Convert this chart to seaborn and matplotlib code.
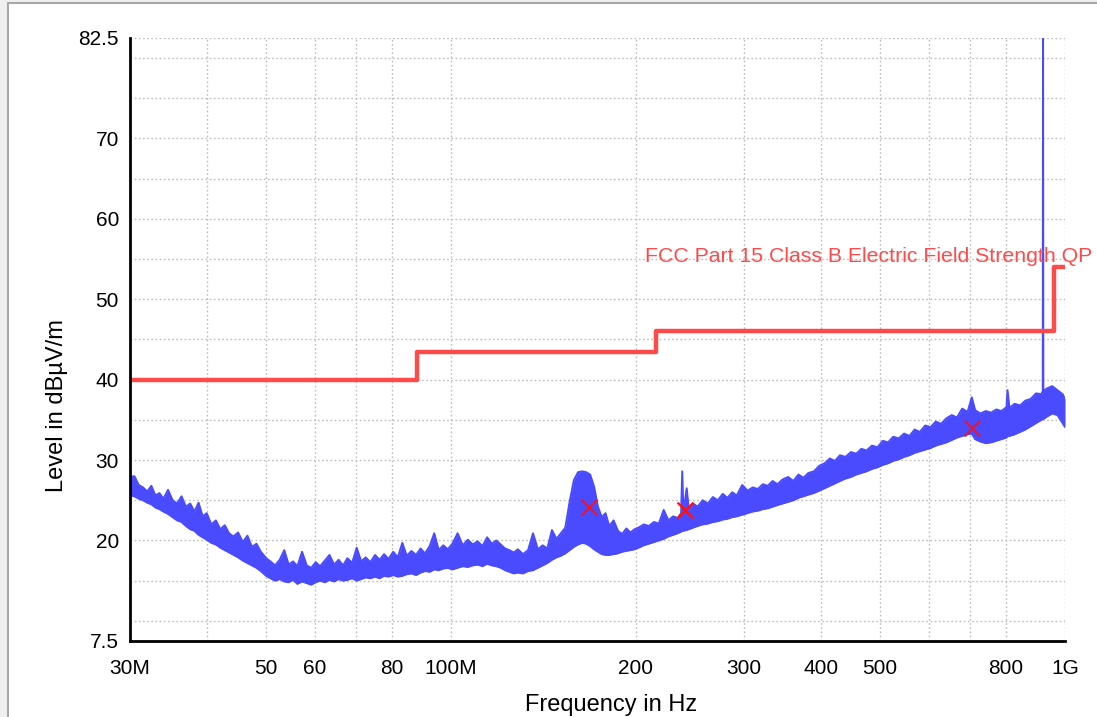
import matplotlib
matplotlib.use("Agg")
import matplotlib.pyplot as plt
import matplotlib.ticker as mticker
from matplotlib.patches import Rectangle
import seaborn as sns
import pandas as pd

# ---------------- data ----------------
# measured spectrum envelope: frequency in MHz, lower / upper level in dBµV/m
freq_mhz = [
    30, 30.5, 31, 31.5, 32, 32.5, 33, 33.5, 34, 34.6, 35.2, 35.8, 36.4, 37, 37.6, 38.2, 38.8, 39.4,
    40, 40.7, 41.4, 42.1, 42.8, 43.5, 44.2, 45, 45.8, 46.6, 47.4, 48.2, 49, 50,
    50.8, 51.7, 52.6, 53.5, 54.4, 55.3, 56.2, 57.2, 58.2, 59.2, 60.2, 61.2, 62.3, 63.4, 64.5, 65.6,
    66.7, 67.8, 69, 70.2, 71.4, 72.6, 73.9, 75.2, 76.5, 77.8, 79.1, 80.5, 81.9, 83.3, 84.7, 86.2,
    87.7, 89.2, 90.7, 92.3, 93.9, 95.5, 97.1, 98.8, 100.5,
    102.5, 104.5, 106.5, 108.5, 110.5, 112.5, 114.5, 116.5, 118.5, 120.5, 122.5, 124.5, 126.5, 128.5,
    131, 133.5, 136, 138.5, 141, 143.5, 146, 148.5, 151, 153.5, 156, 158.5, 161, 163.5, 166, 168.5,
    171, 173.5, 176, 178.5, 181, 184, 187, 190, 193, 196, 199,
    202, 206, 210, 214, 218, 222, 226, 230, 234, 237, 238, 239, 242, 244, 248, 252, 257, 262, 267,
    272, 277, 282, 287, 292, 298, 304, 310, 316, 322, 328, 334, 340, 347, 354, 361, 368, 375, 382,
    390, 398,
    406, 414, 422, 430, 439, 448, 457, 466, 475, 485, 495, 505, 515, 525, 536, 547, 558, 569, 580,
    592, 604, 616, 628, 641, 654, 667, 680, 694, 705, 714, 728, 743, 758, 773, 788, 803, 806, 812,
    828, 845, 862, 879, 897, 915, 920, 921, 922, 934, 953, 972, 991, 1000]
level_high = [
    27.9, 28.0, 26.9, 26.6, 26.1, 26.8, 25.6, 25.9, 25.2, 26.3, 25.0, 24.6, 25.5, 24.2, 24.6, 23.6,
    24.7, 23.0, 23.4, 22.0, 22.5, 21.4, 21.9, 20.9, 20.5, 21.0, 19.8, 20.6, 19.2, 19.6, 18.6, 17.8,
    17.4, 16.9, 17.6, 18.8, 17.0, 17.4, 16.8, 18.6, 16.9, 16.6, 17.3, 16.8, 17.5, 18.2, 17.0, 17.6,
    16.9, 17.8, 17.2, 19.1, 17.4, 17.9, 17.3, 18.2, 17.6, 18.3, 17.7, 18.6, 17.9, 19.7, 18.1, 18.7,
    18.2, 19.0, 18.4, 19.3, 20.9, 18.8, 19.4, 18.9, 19.6,
    20.9, 19.4, 20.1, 19.5, 19.9, 19.3, 20.4, 19.6, 20.0, 19.5, 19.0, 18.8, 18.5, 18.9,
    18.3, 18.8, 20.9, 18.9, 19.4, 19.0, 21.3, 20.2, 20.9, 21.6, 24.8, 27.5, 28.5, 28.6, 28.5, 28.2,
    26.7, 24.2, 22.9, 23.4, 21.8, 22.5, 21.2, 20.8, 21.5, 21.0, 21.4,
    21.6, 22.0, 21.8, 22.3, 22.1, 23.8, 22.5, 23.0, 22.8, 23.4, 28.6, 23.5, 26.5, 23.8, 24.6, 24.2,
    25.0, 24.6, 25.4, 25.0, 25.8, 25.3, 26.0, 25.6, 26.9, 26.2, 26.6, 26.4, 27.0, 26.8, 27.4, 27.0,
    27.6, 27.9, 27.4, 28.2, 27.8, 28.4, 28.6, 29.3,
    29.6, 30.2, 29.9, 30.6, 30.4, 31.0, 30.8, 31.4, 31.2, 31.8, 31.6, 32.4, 32.2, 32.9, 32.7, 33.3,
    33.0, 33.8, 33.5, 34.3, 34.1, 34.8, 34.5, 35.2, 35.6, 35.3, 36.4, 36.0, 37.8, 36.2, 35.8, 36.1,
    35.9, 36.3, 36.1, 36.6, 38.7, 36.5, 37.0, 36.8, 37.4, 37.6, 38.3, 38.2, 38.6, 90.0, 38.6, 38.9,
    39.2, 38.7, 38.2, 37.6]
level_low = [
    25.6, 25.5, 25.2, 25.0, 24.7, 24.5, 24.1, 23.9, 23.6, 23.3, 22.9, 22.5, 22.3, 21.8, 21.4, 21.2,
    20.7, 20.4, 20.1, 19.7, 19.5, 19.1, 18.8, 18.5, 18.2, 17.9, 17.5, 17.2, 16.9, 16.6, 16.2, 15.6,
    15.3, 15.0, 15.2, 14.9, 14.8, 15.1, 14.6, 14.9, 14.7, 14.5, 14.8, 15.0, 14.8, 15.1, 14.9, 15.2,
    15.0, 15.1, 15.3, 15.0, 15.2, 15.4, 15.3, 15.5, 15.3, 15.6, 15.5, 15.7, 15.5, 15.6, 15.8, 15.9,
    15.7, 16.0, 16.2, 16.1, 16.4, 16.3, 16.5, 16.6, 16.4,
    16.6, 16.8, 16.7, 16.9, 17.0, 16.8, 17.1, 16.9, 16.8, 16.6, 16.3, 16.1, 15.9, 16.0,
    15.9, 16.2, 16.3, 16.6, 16.9, 17.2, 17.6, 17.9, 18.1, 18.4, 18.8, 19.2, 19.5, 19.7, 19.6, 19.3,
    18.9, 18.6, 18.3, 18.2, 18.2, 18.3, 18.4, 18.6, 18.7, 18.8, 18.9,
    19.1, 19.4, 19.6, 19.8, 20.0, 20.2, 20.5, 20.7, 20.9, 21.1, 21.2, 21.2, 21.3, 21.4, 21.6, 21.8,
    22.0, 22.1, 22.3, 22.4, 22.6, 22.7, 22.9, 23.0, 23.2, 23.4, 23.6, 23.7, 23.9, 24.0, 24.2, 24.4,
    24.6, 24.8, 25.0, 25.3, 25.5, 25.7, 25.9, 26.2,
    26.5, 26.8, 27.1, 27.4, 27.7, 27.9, 28.2, 28.4, 28.6, 28.9, 29.1, 29.4, 29.6, 29.9, 30.1, 30.4,
    30.6, 30.9, 31.1, 31.3, 31.5, 31.8, 32.0, 32.2, 32.5, 32.8, 33.0, 33.2, 33.3, 32.6, 32.3, 32.1,
    32.2, 32.4, 32.6, 32.8, 33.0, 33.0, 33.2, 33.5, 33.8, 34.2, 34.6, 35.0, 35.1, 35.1, 35.1, 35.4,
    35.8, 35.6, 34.6, 34.1]

# FCC Part 15 Class B limit (step edges)
limit_freq_mhz = [30, 88, 216, 960, 1000]
limit_level = [40, 43.5, 46, 54, 54]
limit_name = "FCC Part 15 Class B Electric Field Strength QP"

# final-measurement markers
marker_freq_mhz = [167.8, 240.4, 705.0]
marker_level = [24.2, 23.8, 34.0]

# axis ticks
x_major_mhz = [30, 50, 60, 80, 100, 200, 300, 400, 500, 800, 1000]
x_major_labels = ["30M", "50", "60", "80", "100M", "200", "300", "400", "500", "800", "1G"]
x_minor_mhz = [40, 70, 600, 700]
y_major = [7.5, 20, 30, 40, 50, 60, 70, 82.5]
y_major_labels = ["7.5", "20", "30", "40", "50", "60", "70", "82.5"]
y_minor = [10, 15, 25, 35, 45, 55, 65, 75, 80]

# ---------------- plotting ----------------
sns.set_theme(style="white")
plt.rcParams["font.family"] = ["Liberation Sans", "DejaVu Sans"]

BLUE = "#4a4aff"
RED = "#ff4a4a"

spec = pd.DataFrame({"f": [v * 1e6 for v in freq_mhz], "lo": level_low, "hi": level_high})
lim = pd.DataFrame({"f": [v * 1e6 for v in limit_freq_mhz], "lvl": limit_level})
mk = pd.DataFrame({"f": [v * 1e6 for v in marker_freq_mhz], "lvl": marker_level})

fig = plt.figure(figsize=(10.97, 7.17), dpi=100)
fig.patch.set_facecolor("#efefef")
fig.add_artist(Rectangle((8 / 1097, -0.05), 1.2, 0.05 + 714 / 717,
                         transform=fig.transFigure, facecolor="white",
                         edgecolor="#a8a8a8", lw=1.5, zorder=-10))
ax = fig.add_axes([130 / 1097, 1 - 641 / 717, 935 / 1097, 603 / 717])
ax.set_facecolor("none")
ax.set_xscale("log")

ax.fill_between(spec["f"], spec["lo"], spec["hi"], color=BLUE, lw=0, zorder=3)
sns.lineplot(data=spec, x="f", y="hi", ax=ax, color=BLUE, lw=1.4, zorder=3, sort=False)
sns.lineplot(data=spec, x="f", y="lo", ax=ax, color=BLUE, lw=1.4, zorder=3, sort=False)
sns.lineplot(data=lim, x="f", y="lvl", ax=ax, color=RED, lw=3.2, drawstyle="steps-post",
             zorder=4, sort=False)
sns.scatterplot(data=mk, x="f", y="lvl", ax=ax, marker="x", color="#ff1010", s=130,
                linewidth=1.6, zorder=5)

ax.text(1106e6, 54.6, limit_name, color=RED, fontsize=15.3, ha="right", va="baseline",
        clip_on=False, zorder=6)

ax.set_xlim(30e6, 1e9)
ax.set_ylim(7.5, 82.5)
ax.xaxis.set_major_locator(mticker.FixedLocator([v * 1e6 for v in x_major_mhz]))
ax.xaxis.set_major_formatter(mticker.FixedFormatter(x_major_labels))
ax.xaxis.set_minor_locator(mticker.FixedLocator([v * 1e6 for v in x_minor_mhz]))
ax.xaxis.set_minor_formatter(mticker.NullFormatter())
ax.yaxis.set_major_locator(mticker.FixedLocator(y_major))
ax.yaxis.set_major_formatter(mticker.FixedFormatter(y_major_labels))
ax.yaxis.set_minor_locator(mticker.FixedLocator(y_minor))

ax.grid(True, which="both", color="#bdbdbd", linestyle=(0, (1.2, 1.8)), lw=1.0, zorder=0)
ax.tick_params(which="both", direction="inout", length=12, width=1.5, color="black",
               labelsize=15, labelcolor="black")
ax.tick_params(axis="x", which="both", pad=7)
ax.tick_params(axis="y", which="both", pad=2)
for s in ["top", "right"]:
    ax.spines[s].set_visible(False)
for s in ["left", "bottom"]:
    ax.spines[s].set_color("black")
    ax.spines[s].set_linewidth(2)
    ax.spines[s].set_zorder(7)

ax.set_xlabel("Frequency in Hz", fontsize=17, color="black")
ax.set_ylabel("Level in dBµV/m", fontsize=17, color="black")
ax.xaxis.set_label_coords(0.515, -0.088)
ax.yaxis.set_label_coords(-0.066, 0.39)

fig.savefig("out.png", dpi=100, facecolor=fig.get_facecolor())
